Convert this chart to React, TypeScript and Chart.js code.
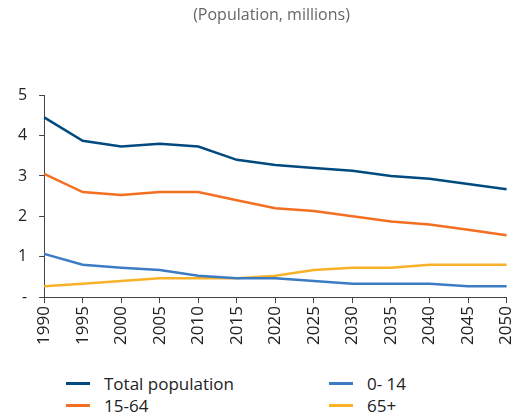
import React, { useEffect, useRef } from "react";
import { Chart, registerables } from "chart.js";
Chart.register(...registerables);

const years = ["1990","1995","2000","2005","2010","2015","2020","2025","2030","2035","2040","2045","2050"];
const total = [4.45,3.87,3.73,3.8,3.73,3.4,3.27,3.2,3.13,3.0,2.93,2.8,2.67];
const working = [3.05,2.6,2.53,2.6,2.6,2.4,2.2,2.13,2.0,1.87,1.8,1.67,1.53];
const young = [1.07,0.8,0.73,0.67,0.53,0.47,0.47,0.4,0.33,0.33,0.33,0.27,0.27];
const old = [0.27,0.33,0.4,0.47,0.47,0.47,0.53,0.67,0.73,0.73,0.8,0.8,0.8];

const C_TOTAL = "#004a80", C_WORK = "#f36f21", C_YOUNG = "#3b7cc4", C_OLD = "#f7b229";
const FONT = "'Open Sans', 'Noto Sans', sans-serif";

export default function App() {
  const ref = useRef<HTMLCanvasElement>(null);
  useEffect(() => {
    const mk = (label: string, data: number[], c: string) => ({ label, data, borderColor: c, backgroundColor: c, borderWidth: 2.5, pointRadius: 0, tension: 0 });
    const chart = new Chart(ref.current!, {
      type: "line",
      data: { labels: years, datasets: [mk("Total population", total, C_TOTAL), mk("0- 14", young, C_YOUNG), mk("15-64", working, C_WORK), mk("65+", old, C_OLD)] },
      options: {
        animation: false, responsive: false, maintainAspectRatio: false,
        layout: { padding: { left: 6, right: -7 } },
        plugins: {
          legend: { display: false }, tooltip: { enabled: false },
          title: { display: true, text: "(Population, millions)", color: "#666", font: { family: FONT, size: 16, weight: "normal" }, padding: { top: 6, bottom: 70 } },
        },
        scales: {
          x: { offset: false, grid: { display: true, drawOnChartArea: false, drawTicks: true, tickLength: 6, color: "#444" }, border: { color: "#444" },
               ticks: { color: "#222", font: { family: FONT, size: 17 }, maxRotation: 90, minRotation: 90, autoSkip: false } },
          y: { min: 0, max: 5, grid: { display: true, drawOnChartArea: false, drawTicks: true, tickLength: 5, color: "#444" }, border: { color: "#444" },
               ticks: { stepSize: 1, color: "#222", padding: 12, font: { family: FONT, size: 16 }, callback: (v: any) => (v === 0 ? "-" : String(v)) } },
        },
      },
    });
    return () => chart.destroy();
  }, []);
  const item = (label: string, c: string) => (
    <div style={{ display: "flex", alignItems: "center", height: 22 }}>
      <div style={{ width: 24, height: 3, background: c, marginRight: 14 }} />
      <span>{label}</span>
    </div>
  );
  return (
    <div style={{ position: "absolute", left: 0, top: 0, width: 530, height: 419, background: "#fff" }}>
      <canvas ref={ref} width={530} height={348} style={{ display: "block" }} />
      <div style={{ position: "absolute", left: 66, top: 372, width: 460, display: "grid", gridTemplateColumns: "263px 1fr", fontFamily: FONT, fontSize: 17, color: "#222" }}>
        {item("Total population", C_TOTAL)}
        {item("0- 14", C_YOUNG)}
        {item("15-64", C_WORK)}
        {item("65+", C_OLD)}
      </div>
    </div>
  );
}
